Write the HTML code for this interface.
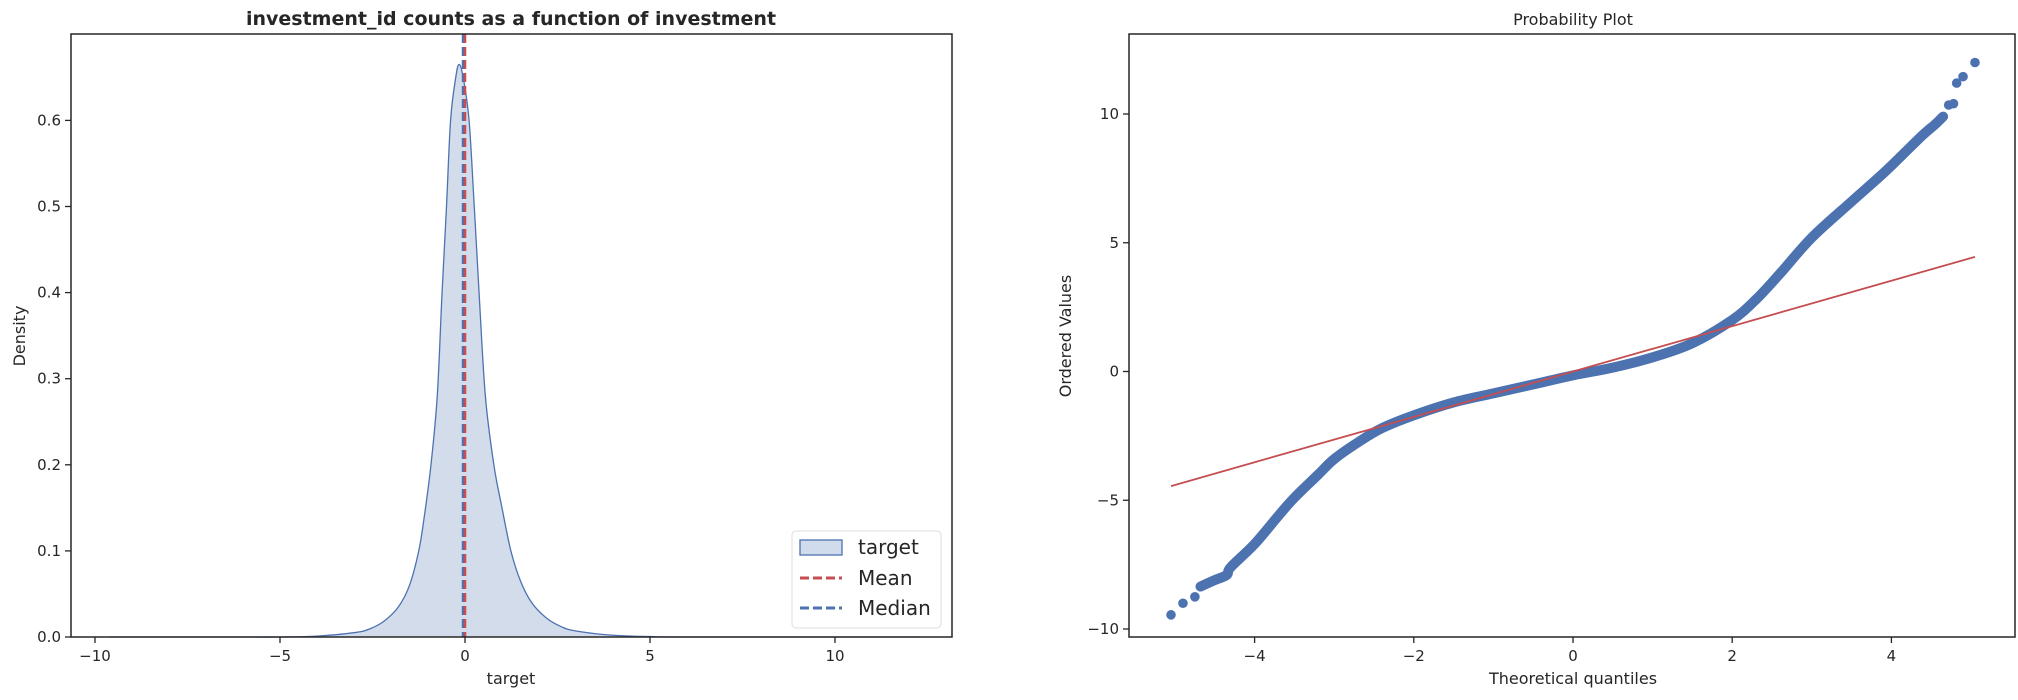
<!DOCTYPE html>
<html><head><meta charset="utf-8"><style>
body{margin:0;background:#fff;}
svg{display:block;font-family:"DejaVu Sans","Liberation Sans",sans-serif;}
.tk{font-size:15px;fill:#262626;}
.lab{font-size:16px;fill:#262626;}
</style></head><body>
<svg id="svg" width="2018" height="700"></svg>
<script>
const kdeX=[-9.6,-6,-5,-4,-3,-2.6,-2.2,-1.8,-1.5,-1.25,-1.1,-0.92,-0.75,-0.62,-0.5,-0.39,-0.25,-0.16,-0.05,0.11,0.25,0.38,0.55,0.78,1.0,1.24,1.5,1.8,2.2,2.6,3,4,5,6,12.3];
const kdeY=[0,0,0,0.001,0.005,0.009,0.018,0.035,0.06,0.1,0.14,0.2,0.28,0.4,0.5,0.6,0.65,0.665,0.65,0.6,0.5,0.4,0.28,0.2,0.15,0.1,0.065,0.04,0.022,0.012,0.007,0.002,0.0005,0,0];
const meanVal=-0.02;
const medianVal=-0.02;
const leftXTicks=[-10,-5,0,5,10];
const leftYTicks=[0.0,0.1,0.2,0.3,0.4,0.5,0.6];
const qqX=[-4.68,-4.5,-4.35,-4.3,-4.0,-3.7,-3.5,-3.2,-3.0,-2.7,-2.4,-2.0,-1.5,-1.0,-0.5,0,0.5,1.0,1.5,2.0,2.3,2.6,3.0,3.5,3.9,4.2,4.4,4.55,4.65];
const qqY=[-8.35,-8.1,-7.9,-7.6,-6.7,-5.6,-4.9,-4.0,-3.4,-2.75,-2.2,-1.7,-1.2,-0.85,-0.5,-0.15,0.15,0.55,1.1,2.0,2.8,3.8,5.2,6.6,7.7,8.6,9.2,9.6,9.9];
const outX=[-5.05,-4.9,-4.75,4.72,4.78,4.82,4.9,5.05];
const outY=[-9.45,-9.0,-8.75,10.35,10.4,11.2,11.45,12.0];
const fitX=[-5.05,5.05];
const fitY=[-4.45,4.45];
const rightXTicks=[-4,-2,0,2,4];
const rightYTicks=[-10,-5,0,5,10];

const NS='http://www.w3.org/2000/svg';
const svg=document.getElementById('svg');
function mk(t,a,p){const e=document.createElementNS(NS,t);for(const k in a)e.setAttribute(k,a[k]);(p||svg).appendChild(e);return e;}
function smooth(pts){let d='M'+pts[0][0]+','+pts[0][1];
 for(let i=0;i<pts.length-1;i++){const p0=pts[i-1]||pts[i],p1=pts[i],p2=pts[i+1],p3=pts[i+2]||p2;
  const c1=[p1[0]+(p2[0]-p0[0])/6,p1[1]+(p2[1]-p0[1])/6],c2=[p2[0]-(p3[0]-p1[0])/6,p2[1]-(p3[1]-p1[1])/6];
  d+=' C'+c1[0]+','+c1[1]+' '+c2[0]+','+c2[1]+' '+p2[0]+','+p2[1];}
 return d;}
// left axes
const L={x0:71,x1:952,y0:34,y1:637};
const lx=v=>465+v*37, ly=v=>637-v*861;
const kpts=kdeX.map((x,i)=>[lx(x),Math.min(ly(kdeY[i]),637)]);
const kd=smooth(kpts);
let area=mk('path',{d:kd+' L'+lx(kdeX[kdeX.length-1])+','+ly(0)+' L'+lx(kdeX[0])+','+ly(0)+' Z',fill:'#4c72b0','fill-opacity':0.25,stroke:'none'});

let line=mk('path',{d:kd,fill:'none',stroke:'#4c72b0','stroke-width':1.3});

let ml=mk('line',{x1:lx(meanVal)+0.5,x2:lx(meanVal)+0.5,y1:L.y0,y2:L.y1,stroke:'#c44e52','stroke-width':3,'stroke-dasharray':'9,4'});

let mdl=mk('line',{x1:lx(medianVal)-1.5,x2:lx(medianVal)-1.5,y1:L.y0,y2:L.y1,stroke:'#4c72b0','stroke-width':2,'stroke-dasharray':'9,4'});

let lb=mk('rect',{x:L.x0,y:L.y0,width:L.x1-L.x0,height:L.y1-L.y0,fill:'none',stroke:'#262626','stroke-width':1.5});

leftXTicks.forEach(v=>{const x=lx(v);mk('line',{x1:x,x2:x,y1:L.y1,y2:L.y1+6,stroke:'#262626','stroke-width':1.3});
 const t=mk('text',{x:x,y:L.y1+24,'text-anchor':'middle',class:'tk'});t.textContent=(v<0?'\u2212'+(-v):v);
 });
leftYTicks.forEach(v=>{const y=ly(v);mk('line',{x1:L.x0-6,x2:L.x0,y1:y,y2:y,stroke:'#262626','stroke-width':1.3});
 const t=mk('text',{x:L.x0-10,y:y+5,'text-anchor':'end',class:'tk'});t.textContent=v.toFixed(1);
 });
let t1=mk('text',{x:511,y:25,'text-anchor':'middle','font-size':'19px','font-weight':'bold',fill:'#262626'});t1.textContent='investment_id counts as a function of investment';

let xl=mk('text',{x:511,y:684,'text-anchor':'middle',class:'lab'});xl.textContent='target';

let yl=mk('text',{x:0,y:0,transform:'translate(25,336) rotate(-90)','text-anchor':'middle',class:'lab'});yl.textContent='Density';

// legend
const lg=mk('g',{});
mk('rect',{x:792,y:531,width:149,height:97,rx:4,fill:'#fff',stroke:'#dddddd','stroke-width':1},lg);
mk('rect',{x:800,y:540,width:42,height:15,fill:'#d0dbeb',stroke:'#4c72b0','stroke-width':1.3},lg);
mk('line',{x1:800,x2:842,y1:578,y2:578,stroke:'#c44e52','stroke-width':3,'stroke-dasharray':'9,4'},lg);
mk('line',{x1:800,x2:842,y1:608,y2:608,stroke:'#4c72b0','stroke-width':3,'stroke-dasharray':'9,4'},lg);
[['target',554],['Mean',585],['Median',615]].forEach(([s,y])=>{const t=mk('text',{x:858,y:y,'font-size':'20px',fill:'#262626'},lg);t.textContent=s;
 });
// right axes
const R={x0:1129,x1:2015,y0:34,y1:637};
const rx=v=>1573+v*79.6, ry=v=>371.5-v*25.75;
const qd=smooth(qqX.map((x,i)=>[rx(x),ry(qqY[i])]));
let qq=mk('path',{d:qd,fill:'none',stroke:'#4c72b0','stroke-width':10,'stroke-linecap':'round','stroke-linejoin':'round'});

outX.forEach((x,i)=>{const c=mk('circle',{cx:rx(x),cy:ry(outY[i]),r:4.8,fill:'#4c72b0'});
 });
let fl=mk('line',{x1:rx(fitX[0]),y1:ry(fitY[0]),x2:rx(fitX[1]),y2:ry(fitY[1]),stroke:'#c44e52','stroke-width':1.8});

let rb=mk('rect',{x:R.x0,y:R.y0,width:R.x1-R.x0,height:R.y1-R.y0,fill:'none',stroke:'#262626','stroke-width':1.5});

rightXTicks.forEach(v=>{const x=rx(v);mk('line',{x1:x,x2:x,y1:R.y1,y2:R.y1+6,stroke:'#262626','stroke-width':1.3});
 const t=mk('text',{x:x,y:R.y1+24,'text-anchor':'middle',class:'tk'});t.textContent=(v<0?'\u2212'+(-v):v);
 });
rightYTicks.forEach(v=>{const y=ry(v);mk('line',{x1:R.x0-6,x2:R.x0,y1:y,y2:y,stroke:'#262626','stroke-width':1.3});
 const t=mk('text',{x:R.x0-10,y:y+5,'text-anchor':'end',class:'tk'});t.textContent=(v<0?'\u2212'+(-v):v);
 });
let t2=mk('text',{x:1573,y:25,'text-anchor':'middle','font-size':'16px',fill:'#262626'});t2.textContent='Probability Plot';

let xl2=mk('text',{x:1573,y:684,'text-anchor':'middle',class:'lab'});xl2.textContent='Theoretical quantiles';

let yl2=mk('text',{x:0,y:0,transform:'translate(1071,336) rotate(-90)','text-anchor':'middle',class:'lab'});yl2.textContent='Ordered Values';

</script>
</body></html>
